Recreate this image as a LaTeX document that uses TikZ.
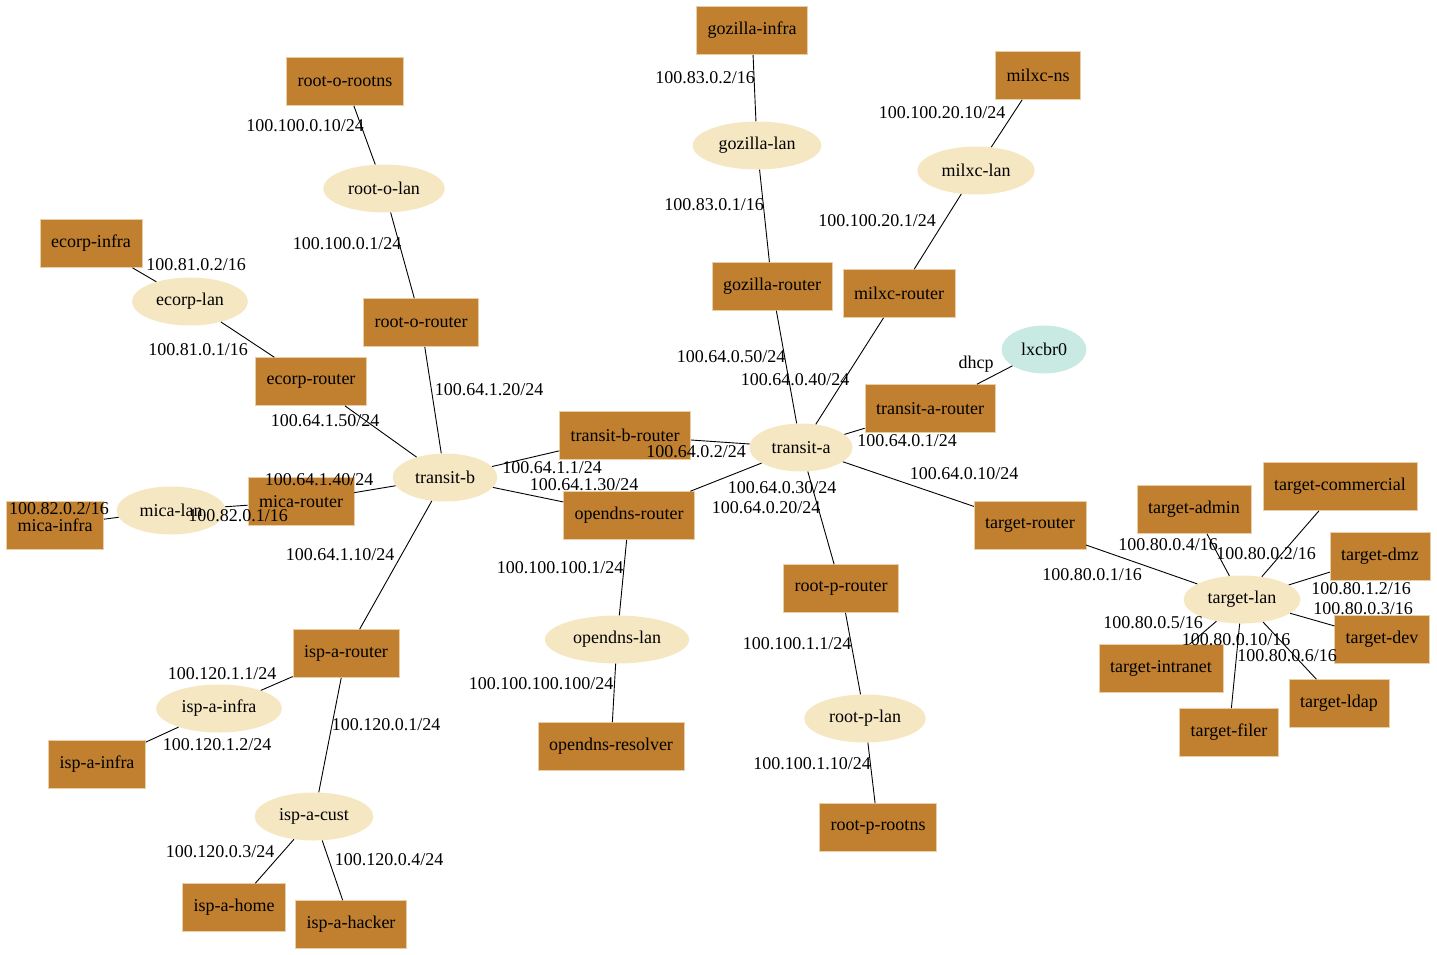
\documentclass[tikz,border=0pt]{standalone}
\usepackage{fontspec}
\setmainfont{Liberation Serif}
\usetikzlibrary{shapes.geometric}
\definecolor{hostfill}{HTML}{C08030}
\definecolor{hostline}{HTML}{E9CFA6}
\definecolor{lanfill}{HTML}{F6E7C3}
\definecolor{bridgefill}{HTML}{C9EAE3}
\tikzset{
    % hosts and routers
    host/.style={
           rectangle,
           draw=hostline, line width=0.6pt,
           fill=hostfill,
           minimum height=48pt,
           inner xsep=11pt,
           font=\fontsize{18}{20}\selectfont},
    % networks
    lan/.style={
           ellipse,
           fill=lanfill,
           minimum height=48pt,
           inner xsep=7pt,
           font=\fontsize{18}{20}\selectfont},
    bridge/.style={lan, fill=bridgefill},
    % addresses
    ip/.style={
           inner sep=0pt,
           font=\fontsize{18}{20}\selectfont},
    link/.style={draw=black, line width=0.9pt}
}
\begin{document}
\begin{tikzpicture}[x=1pt,y=-1pt]
\useasboundingbox (0,-1.5) rectangle (1437,952.5);
% networks
\node[lan](gozilla-lan) at (757,144){gozilla-lan};
\node[lan](root-o-lan) at (384,187){root-o-lan};
\node[lan](milxc-lan) at (976,169){milxc-lan};
\node[lan](ecorp-lan) at (190,300){ecorp-lan};
\node[lan](transit-a) at (801,446){transit-a};
\node[lan](transit-b) at (445,476){transit-b};
\node[bridge](lxcbr0) at (1044,348){lxcbr0};
\node[lan](mica-lan) at (171,509){mica-lan};
\node[lan](target-lan) at (1242,598){target-lan};
\node[lan](opendns-lan) at (617,638){opendns-lan};
\node[lan](root-p-lan) at (865,717){root-p-lan};
\node[lan](isp-a-infra-lan) at (219,707){isp-a-infra};
\node[lan](isp-a-cust) at (314,815){isp-a-cust};
% hosts
\node[host](gozilla-infra) at (752,29){gozilla-infra};
\node[host](root-o-rootns) at (345,80){root-o-rootns};
\node[host](milxc-ns) at (1038,74){milxc-ns};
\node[host](ecorp-infra) at (91,242){ecorp-infra};
\node[host](root-o-router) at (421,321){root-o-router};
\node[host](gozilla-router) at (772,285){gozilla-router};
\node[host](milxc-router) at (899,292){milxc-router};
\node[host](ecorp-router) at (311,380){ecorp-router};
\node[host](transit-a-router) at (930,407){transit-a-router};
\node[host](transit-b-router) at (625,434){transit-b-router};
\node[host](mica-router) at (301,500){mica-router};
\node[host](mica-infra) at (55,524){mica-infra};
\node[host](opendns-router) at (629,514){opendns-router};
\node[host](target-router) at (1030,524){target-router};
\node[host](target-admin) at (1194,508){target-admin};
\node[host](target-commercial) at (1340,485){target-commercial};
\node[host](target-dmz) at (1380,555){target-dmz};
\node[host](target-dev) at (1382,638){target-dev};
\node[host](target-intranet) at (1161,667){target-intranet};
\node[host](target-ldap) at (1339,702){target-ldap};
\node[host](target-filer) at (1229,731){target-filer};
\node[host](root-p-router) at (841,587){root-p-router};
\node[host](isp-a-router) at (346,652){isp-a-router};
\node[host](isp-a-infra) at (97,763){isp-a-infra};
\node[host](opendns-resolver) at (611,745){opendns-resolver};
\node[host](root-p-rootns) at (878,826){root-p-rootns};
\node[host](isp-a-home) at (234,906){isp-a-home};
\node[host](isp-a-hacker) at (351,923){isp-a-hacker};
% links
\path[link]
    (gozilla-infra) -- (gozilla-lan)
    (gozilla-lan) -- (gozilla-router)
    (root-o-rootns) -- (root-o-lan)
    (root-o-lan) -- (root-o-router)
    (milxc-ns) -- (milxc-lan)
    (milxc-lan) -- (milxc-router)
    (ecorp-infra) -- (ecorp-lan)
    (ecorp-lan) -- (ecorp-router)
    (root-o-router) -- (transit-b)
    (ecorp-router) -- (transit-b)
    (mica-router) -- (transit-b)
    (mica-infra) -- (mica-lan)
    (mica-lan) -- (mica-router)
    (transit-b) -- (transit-b-router)
    (transit-b) -- (opendns-router)
    (transit-b) -- (isp-a-router)
    (transit-b-router) -- (transit-a)
    (gozilla-router) -- (transit-a)
    (milxc-router) -- (transit-a)
    (transit-a-router) -- (transit-a)
    (transit-a-router) -- (lxcbr0)
    (transit-a) -- (target-router)
    (transit-a) -- (opendns-router)
    (transit-a) -- (root-p-router)
    (opendns-router) -- (opendns-lan)
    (opendns-lan) -- (opendns-resolver)
    (root-p-router) -- (root-p-lan)
    (root-p-lan) -- (root-p-rootns)
    (isp-a-router) -- (isp-a-infra-lan)
    (isp-a-infra-lan) -- (isp-a-infra)
    (isp-a-router) -- (isp-a-cust)
    (isp-a-cust) -- (isp-a-home)
    (isp-a-cust) -- (isp-a-hacker)
    (target-router) -- (target-lan)
    (target-lan) -- (target-admin)
    (target-lan) -- (target-commercial)
    (target-lan) -- (target-dmz)
    (target-lan) -- (target-dev)
    (target-lan) -- (target-intranet)
    (target-lan) -- (target-filer)
    (target-lan) -- (target-ldap);
% addresses
\node[ip](ip-gozilla-infra) at (705,76){100.83.0.2/16};
\node[ip](ip-gozilla-router) at (714,203){100.83.0.1/16};
\node[ip](ip-root-o-rootns) at (305,124){100.100.0.10/24};
\node[ip](ip-root-o-router) at (347,242){100.100.0.1/24};
\node[ip](ip-milxc-ns) at (942,111){100.100.20.10/24};
\node[ip](ip-milxc-router) at (877,219){100.100.20.1/24};
\node[ip](ip-ecorp-infra) at (196,263){100.81.0.2/16};
\node[ip](ip-ecorp-router) at (198,348){100.81.0.1/16};
\node[ip](ip-root-o-transit) at (489,388){100.64.1.20/24};
\node[ip](ip-ecorp-transit) at (325,419){100.64.1.50/24};
\node[ip](ip-mica-transit) at (319,478){100.64.1.40/24};
\node[ip](ip-mica-infra) at (59,507){100.82.0.2/16};
\node[ip](ip-mica-router) at (238,514){100.82.0.1/16};
\node[ip](ip-transit-b-router) at (552,466){100.64.1.1/24};
\node[ip](ip-opendns-b) at (584,483){100.64.1.30/24};
\node[ip](ip-isp-a-transit) at (340,553){100.64.1.10/24};
\node[ip](ip-transit-a-b) at (696,450){100.64.0.2/24};
\node[ip](ip-gozilla-transit) at (731,355){100.64.0.50/24};
\node[ip](ip-milxc-transit) at (795,378){100.64.0.40/24};
\node[ip](ip-transit-a-router) at (907,439){100.64.0.1/24};
\node[ip](ip-dhcp) at (976,363){dhcp};
\node[ip](ip-target-transit) at (964,472){100.64.0.10/24};
\node[ip](ip-opendns-a) at (782,486){100.64.0.30/24};
\node[ip](ip-root-p-transit) at (766,506){100.64.0.20/24};
\node[ip](ip-opendns-router) at (560,566){100.100.100.1/24};
\node[ip](ip-opendns-resolver) at (541,682){100.100.100.100/24};
\node[ip](ip-root-p-router) at (797,642){100.100.1.1/24};
\node[ip](ip-root-p-rootns) at (812,762){100.100.1.10/24};
\node[ip](ip-isp-a-infra-router) at (222,672){100.120.1.1/24};
\node[ip](ip-isp-a-infra) at (217,743){100.120.1.2/24};
\node[ip](ip-isp-a-cust-router) at (386,723){100.120.0.1/24};
\node[ip](ip-isp-a-home) at (220,850){100.120.0.3/24};
\node[ip](ip-isp-a-hacker) at (389,858){100.120.0.4/24};
\node[ip](ip-target-router) at (1092,573){100.80.0.1/16};
\node[ip](ip-target-admin) at (1168,543){100.80.0.4/16};
\node[ip](ip-target-commercial) at (1266,552){100.80.0.2/16};
\node[ip](ip-target-dmz) at (1361,587){100.80.1.2/16};
\node[ip](ip-target-dev) at (1363,607){100.80.0.3/16};
\node[ip](ip-target-intranet) at (1153,621){100.80.0.5/16};
\node[ip](ip-target-filer) at (1236,638){100.80.0.10/16};
\node[ip](ip-target-ldap) at (1287,654){100.80.0.6/16};
\end{tikzpicture}
\end{document}
